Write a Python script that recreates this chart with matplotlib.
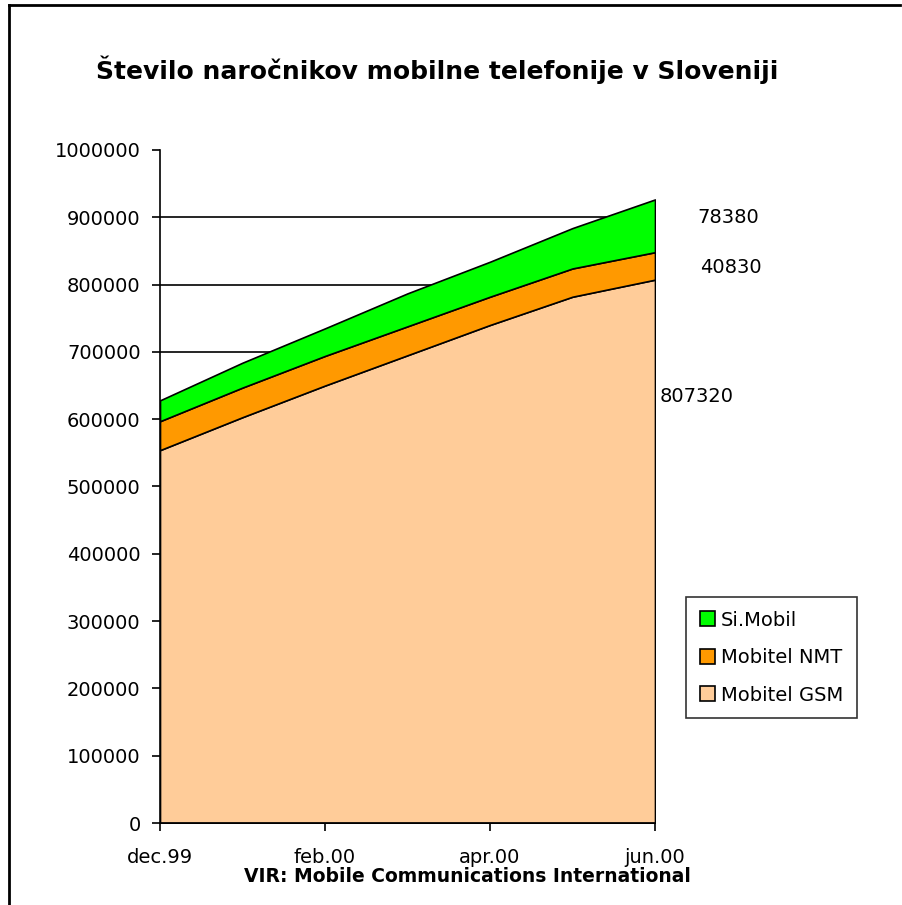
import matplotlib.pyplot as plt
from matplotlib.lines import Line2D

plt.rcParams['font.family'] = ['DejaVu Sans']

# podatki (odčitani s slike)
meseci = ['dec.99', 'jan.00', 'feb.00', 'mar.00', 'apr.00', 'maj.00', 'jun.00']
gsm = [554000, 603000, 650000, 695000, 740000, 782000, 807320]
nmt = [43000, 44000, 44000, 43000, 42000, 42000, 40830]
simobil = [31000, 37000, 41000, 49000, 52000, 60000, 78380]
oznake = ['Mobitel GSM', 'Mobitel NMT', 'Si.Mobil']
barve = ['#FFCC99', '#FF9900', '#00FF00']

fig = plt.figure(figsize=(9.03, 9.05), dpi=100)
ax = fig.add_axes([160/903, 1 - 823/905, 495/903, 673/905])

x = list(range(len(meseci)))
polys = ax.stackplot(x, gsm, nmt, simobil, labels=oznake, colors=barve,
                     edgecolor='black', linewidth=1.2)

ax.set_xlim(0, len(meseci) - 1)
ax.set_ylim(0, 1000000)
ax.set_yticks(range(0, 1000001, 100000))
ax.set_yticklabels([str(v) for v in range(0, 1000001, 100000)])
ax.set_xticks(x[::2])
ax.set_xticklabels(meseci[::2])

ax.yaxis.grid(True, color='black', linewidth=1.2)
ax.set_axisbelow(True)
ax.get_ygridlines()[-1].set_visible(False)
for s in ['top', 'right']:
    ax.spines[s].set_visible(False)
for s in ['left', 'bottom']:
    ax.spines[s].set_color('black')
    ax.spines[s].set_linewidth(1.2)
ax.tick_params(axis='both', direction='out', length=6, width=1.2,
               labelsize=14, colors='black')
ax.tick_params(axis='y', pad=8)
ax.tick_params(axis='x', pad=12)

# vrednosti za zadnji mesec
zadnji = len(meseci) - 1
ax.text(zadnji + 0.51, 900000, str(simobil[-1]), fontsize=14, va='center', ha='left')
ax.text(zadnji + 0.55, 826000, str(nmt[-1]), fontsize=14, va='center', ha='left')
ax.text(zadnji + 0.06, 634000, str(gsm[-1]), fontsize=14, va='center', ha='left')

h, l = ax.get_legend_handles_labels()
leg = fig.legend(h[::-1], l[::-1], loc='upper left',
                 bbox_to_anchor=(686/903, 1 - 597/905), fontsize=14,
                 frameon=True, fancybox=False, edgecolor='black',
                 handlelength=0.8, handleheight=0.8, handletextpad=0.3,
                 labelspacing=0.95, borderpad=0.7, borderaxespad=0)
leg.get_frame().set_linewidth(1.2)

fig.text(437/903, 1 - 70/905, 'Število naročnikov mobilne telefonije v Sloveniji',
         fontsize=18, fontweight='bold', ha='center', va='center')
fig.text(467/903, 1 - 876/905, 'VIR: Mobile Communications International',
         fontsize=13.5, fontweight='bold', ha='center', va='center')

# okvir slike
fig.add_artist(Line2D([9/903, 9/903], [0, 1 - 5/905], color='black', lw=2))
fig.add_artist(Line2D([9/903, 900/903], [1 - 5/905, 1 - 5/905], color='black', lw=2))

fig.savefig('out.png', dpi=100)
